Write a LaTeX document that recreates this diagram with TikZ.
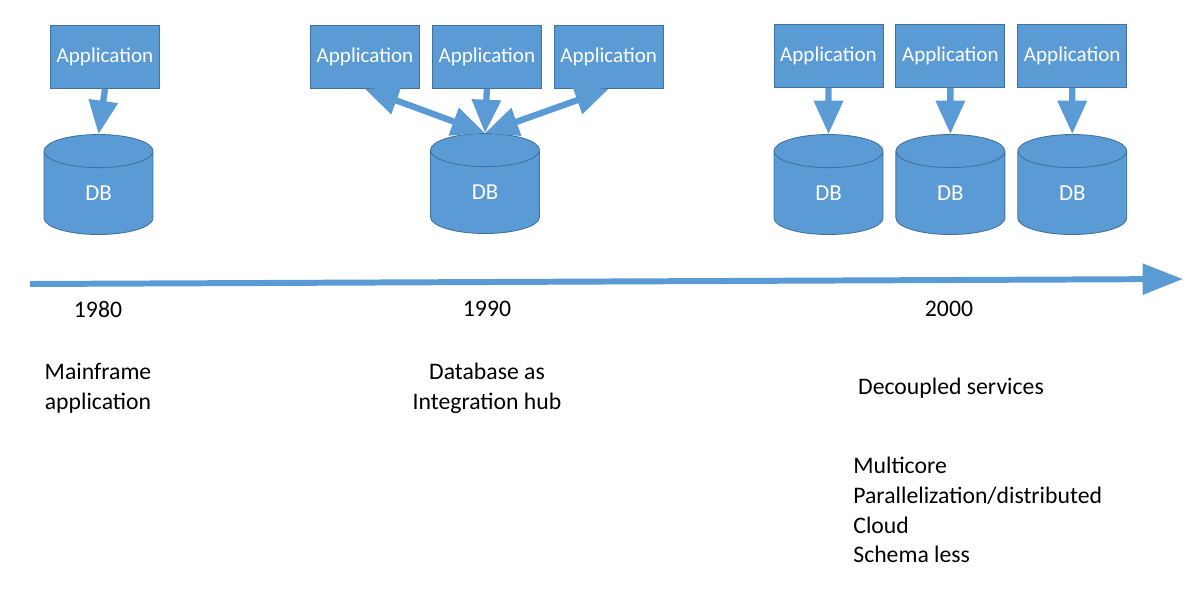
\documentclass[tikz,border=0pt]{standalone}
\usepackage{fontspec}
\setmainfont{Carlito}
\usepackage{tikz}
\usetikzlibrary{positioning,shapes.geometric,arrows.meta}
\definecolor{boxblue}{RGB}{91,155,213}
\definecolor{boxline}{RGB}{65,113,156}
\tikzset{
    appbox/.style={rectangle, fill=boxblue, draw=boxline, line width=0.5pt, text=white, minimum width=2.18cm, minimum height=1.26cm, inner sep=0mm, font=\fontsize{12}{14}\selectfont},
    dbcyl/.style={cylinder, shape border rotate=90, aspect=1.25, fill=boxblue, draw=boxline, line width=0.5pt, text=white, minimum width=2.18cm, minimum height=2.0cm, inner sep=0mm, font=\fontsize{13}{15}\selectfont},
    feed/.style={draw=boxblue, line width=3.6pt, -{Triangle[width=16pt,length=19pt]}},
    twoway/.style={draw=boxblue, line width=3.6pt, {Triangle[width=16pt,length=19pt]}-{Triangle[width=16pt,length=19pt]}},
    timeline/.style={draw=boxblue, line width=3.4pt, -{Triangle[width=17pt,length=23pt]}},
    eratext/.style={text=black, align=center, inner sep=0mm, font=\fontsize{13.5}{17}\selectfont},
    node distance=0.24cm
}
\begin{document}
\begin{tikzpicture}[x=0.02cm,y=-0.02cm]
    \useasboundingbox (0,0) rectangle (1186,589);

    % 1980
    \node[appbox] (m_app) at (105,57) {Application};
    \node[dbcyl] (m_db) at (98.5,193) {DB};
    \draw (m_app.south) edge[feed] (m_db.north);

    % 1990
    \node[appbox] (h_app1) at (365,57) {Application};
    \node[appbox, right = of h_app1] (h_app2) {Application};
    \node[appbox, right = of h_app2] (h_app3) {Application};
    \node[dbcyl] (h_db) at (485,192) {DB};
    \draw
    (h_app1.south) edge[twoway] (h_db.north)
    (h_app2.south) edge[feed] (h_db.north)
    (h_app3.south) edge[twoway] (h_db.north);

    % 2000
    \node[appbox] (d_app1) at (828.5,56) {Application};
    \node[appbox, right = of d_app1] (d_app2) {Application};
    \node[appbox, right = of d_app2] (d_app3) {Application};
    \node[dbcyl] (d_db1) at (828.5,193) {DB};
    \node[dbcyl, right = of d_db1] (d_db2) {DB};
    \node[dbcyl, right = of d_db2] (d_db3) {DB};
    \draw
    (d_app1.south) edge[feed] (d_db1.north)
    (d_app2.south) edge[feed] (d_db2.north)
    (d_app3.south) edge[feed] (d_db3.north);

    % time axis
    \coordinate (t_start) at (30,284);
    \coordinate (t_end) at (1183,279);
    \draw[timeline] (t_start) -- (t_end);

    \node[eratext] (y1980) at (98,309) {1980};
    \node[eratext] (y1990) at (487,309) {1990};
    \node[eratext] (y2000) at (949,309) {2000};

    \node[eratext] (m_txt) at (98,388) {Mainframe\\application};
    \node[eratext] (h_txt) at (487,388) {Database as\\Integration hub};
    \node[eratext] (d_txt) at (951,388) {Decoupled services};
    \node[eratext, align=left, anchor=west] (d_list) at (853,510) {Multicore\\Parallelization/distributed\\Cloud\\Schema less};
\end{tikzpicture}
\end{document}
